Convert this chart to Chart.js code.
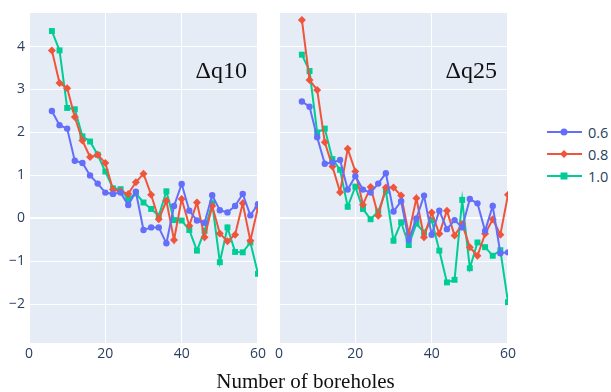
<!DOCTYPE html>
<html>
<head>
<meta charset="utf-8">
<script src="https://cdn.jsdelivr.net/npm/chart.js@4/dist/chart.umd.min.js"></script>
<style>
  html, body { margin: 0; padding: 0; background: #fff; }
  #wrap { position: relative; width: 611px; height: 392px; overflow: hidden; }
  canvas { position: absolute; top: 0; }
  #left { left: 0; }
  #right { left: 271px; }
  #legend { position: absolute; left: 547px; top: 121px; font-family: 'Open Sans', sans-serif; font-size: 14.5px; color: #2a3f5f; }
  .item { height: 22px; display: flex; align-items: center; }
  .item svg { margin-right: 6px; }
  #xtitle { position: absolute; left: 0; width: 611px; top: 369px; text-align: center; font-family: 'Liberation Serif', 'Times New Roman', serif; font-size: 21px; color: #111; }
</style>
</head>
<body>
<div id="wrap">
  <canvas id="left" width="269" height="392"></canvas>
  <canvas id="right" width="248" height="392"></canvas>
  <div id="legend"></div>
  <div id="xtitle">Number of boreholes</div>
</div>
<script>
// number of boreholes
const boreholes = [6, 8, 10, 12, 14, 16, 18, 20, 22, 24, 26, 28, 30, 32, 34, 36, 38, 40, 42, 44, 46, 48, 50, 52, 54, 56, 58, 60];
const seriesNames = ['0.6', '0.8', '1.0'];
const panelLabels = ['Δq10', 'Δq25'];

// Δq10 panel
const q10_06 = [2.5, 2.17, 2.09, 1.34, 1.29, 1.0, 0.81, 0.6, 0.57, 0.6, 0.31, 0.62, -0.27, -0.21, -0.21, -0.58, 0.29, 0.8, 0.18, -0.05, -0.1, 0.54, 0.19, 0.14, 0.29, 0.57, 0.07, 0.33];
const q10_08 = [3.91, 3.15, 3.03, 2.36, 1.81, 1.43, 1.48, 1.29, 0.67, 0.63, 0.57, 0.84, 1.04, 0.55, -0.02, 0.41, -0.5, 0.45, -0.17, 0.37, -0.44, 0.29, -0.35, -0.53, -0.38, 0.35, -0.52, 0.26];
const q10_10 = [4.36, 3.91, 2.57, 2.54, 1.91, 1.79, 1.48, 1.09, 0.7, 0.68, 0.45, 0.58, 0.37, 0.22, 0.06, 0.63, -0.04, -0.05, -0.27, -0.75, -0.29, 0.35, -1.02, -0.21, -0.78, -0.79, -0.56, -1.29];

// Δq25 panel
const q25_06 = [2.72, 2.6, 1.89, 1.27, 1.3, 1.36, 0.67, 0.98, 0.67, 0.6, 0.81, 1.05, 0.16, 0.4, -0.5, 0.0, 0.53, -0.38, 0.18, -0.25, -0.04, -0.21, 0.45, 0.35, -0.29, 0.29, -0.81, -0.79];
const q25_08 = [4.62, 3.22, 2.99, 1.77, 1.21, 0.61, 1.62, 1.09, 0.32, 0.73, 0.06, 0.72, 0.72, 0.53, -0.36, 0.47, -0.44, 0.14, -0.36, 0.18, -0.4, -0.13, -0.67, -0.87, -0.36, -0.02, -0.38, 0.55];
const q25_10 = [3.81, 3.43, 2.0, 2.09, 1.38, 1.13, 0.27, 0.74, 0.22, -0.02, 0.16, 0.64, -0.52, -0.09, -0.62, -0.12, -0.33, -0.04, -0.75, -1.49, -1.43, 0.43, -1.16, -0.56, -0.67, -0.87, -0.74, -1.95];

const colors = ['#636EFA', '#EF553B', '#00CC96'];
const markers = ['circle', 'rectRot', 'rect'];
const radii = [3.2, 4, 4.2];

const tickFont = { family: "'Open Sans', sans-serif", size: 14 };

function makeDatasets(values) {
    return values.map((vals, i) => ({
        label: seriesNames[i],
        data: boreholes.map((b, j) => ({ x: b, y: vals[j] })),
        borderColor: colors[i],
        backgroundColor: colors[i],
        borderWidth: 2,
        pointStyle: markers[i],
        pointRadius: radii[i],
        pointBorderWidth: 0,
        tension: 0
    }));
}

// plot background + panel label
const panelPlugin = {
    id: 'panel',
    beforeDraw(chart) {
        const a = chart.chartArea;
        const ctx = chart.ctx;
        ctx.save();
        ctx.fillStyle = '#E5ECF6';
        ctx.fillRect(a.left, a.top, a.right - a.left, a.bottom - a.top);
        ctx.restore();
    },
    afterDatasetsDraw(chart, args, opts) {
        const a = chart.chartArea;
        const ctx = chart.ctx;
        ctx.save();
        ctx.font = "24px 'Liberation Serif', 'Times New Roman', serif";
        ctx.fillStyle = '#111';
        ctx.textAlign = 'right';
        ctx.textBaseline = 'alphabetic';
        ctx.fillText(opts.text, a.right - 11, a.top + 65);
        ctx.restore();
    }
};

function makeChart(id, values, label, showY) {
    return new Chart(document.getElementById(id), {
        type: 'line',
        data: { datasets: makeDatasets(values) },
        plugins: [panelPlugin],
        options: {
            responsive: false,
            animation: false,
            layout: { padding: { top: 13, bottom: 0, left: 0, right: 0 } },
            plugins: {
                legend: { display: false },
                tooltip: { enabled: false },
                panel: { text: label }
            },
            scales: {
                x: {
                    type: 'linear',
                    min: 0,
                    max: 60,
                    border: { display: false },
                    grid: { color: '#ffffff', lineWidth: 1, drawTicks: false },
                    ticks: { stepSize: 20, maxRotation: 0, padding: 3, color: '#2a3f5f', font: tickFont },
                    afterFit(s) { s.height = 49; }
                },
                y: {
                    min: -2.9,
                    max: 4.78,
                    border: { display: false },
                    grid: {
                        drawTicks: false,
                        color: ctx => Number.isInteger(ctx.tick.value) ? '#ffffff' : 'rgba(0,0,0,0)',
                        lineWidth: ctx => ctx.tick.value === 0 ? 2 : 1
                    },
                    ticks: {
                        display: showY,
                        stepSize: 1,
                        padding: 4,
                        color: '#2a3f5f',
                        font: tickFont,
                        callback: v => Number.isInteger(v) ? (v < 0 ? '\u2212' + Math.abs(v) : String(v)) : ''
                    },
                    afterFit(s) { s.width = showY ? 29 : 8; }
                }
            }
        }
    });
}

makeChart('left', [q10_06, q10_08, q10_10], panelLabels[0], true);
makeChart('right', [q25_06, q25_08, q25_10], panelLabels[1], false);

// legend
const legendEl = document.getElementById('legend');
seriesNames.forEach((name, i) => {
    const c = colors[i];
    let mark;
    if (markers[i] === 'circle') mark = `<circle cx="17" cy="6" r="3.5" fill="${c}"/>`;
    else if (markers[i] === 'rectRot') mark = `<polygon points="17,2 21,6 17,10 13,6" fill="${c}"/>`;
    else mark = `<rect x="13.5" y="2.5" width="7" height="7" fill="${c}"/>`;
    const div = document.createElement('div');
    div.className = 'item';
    div.innerHTML = `<svg width="35" height="12"><line x1="0" y1="6" x2="35" y2="6" stroke="${c}" stroke-width="2"/>${mark}</svg><span>${name}</span>`;
    legendEl.appendChild(div);
});
</script>
</body>
</html>
